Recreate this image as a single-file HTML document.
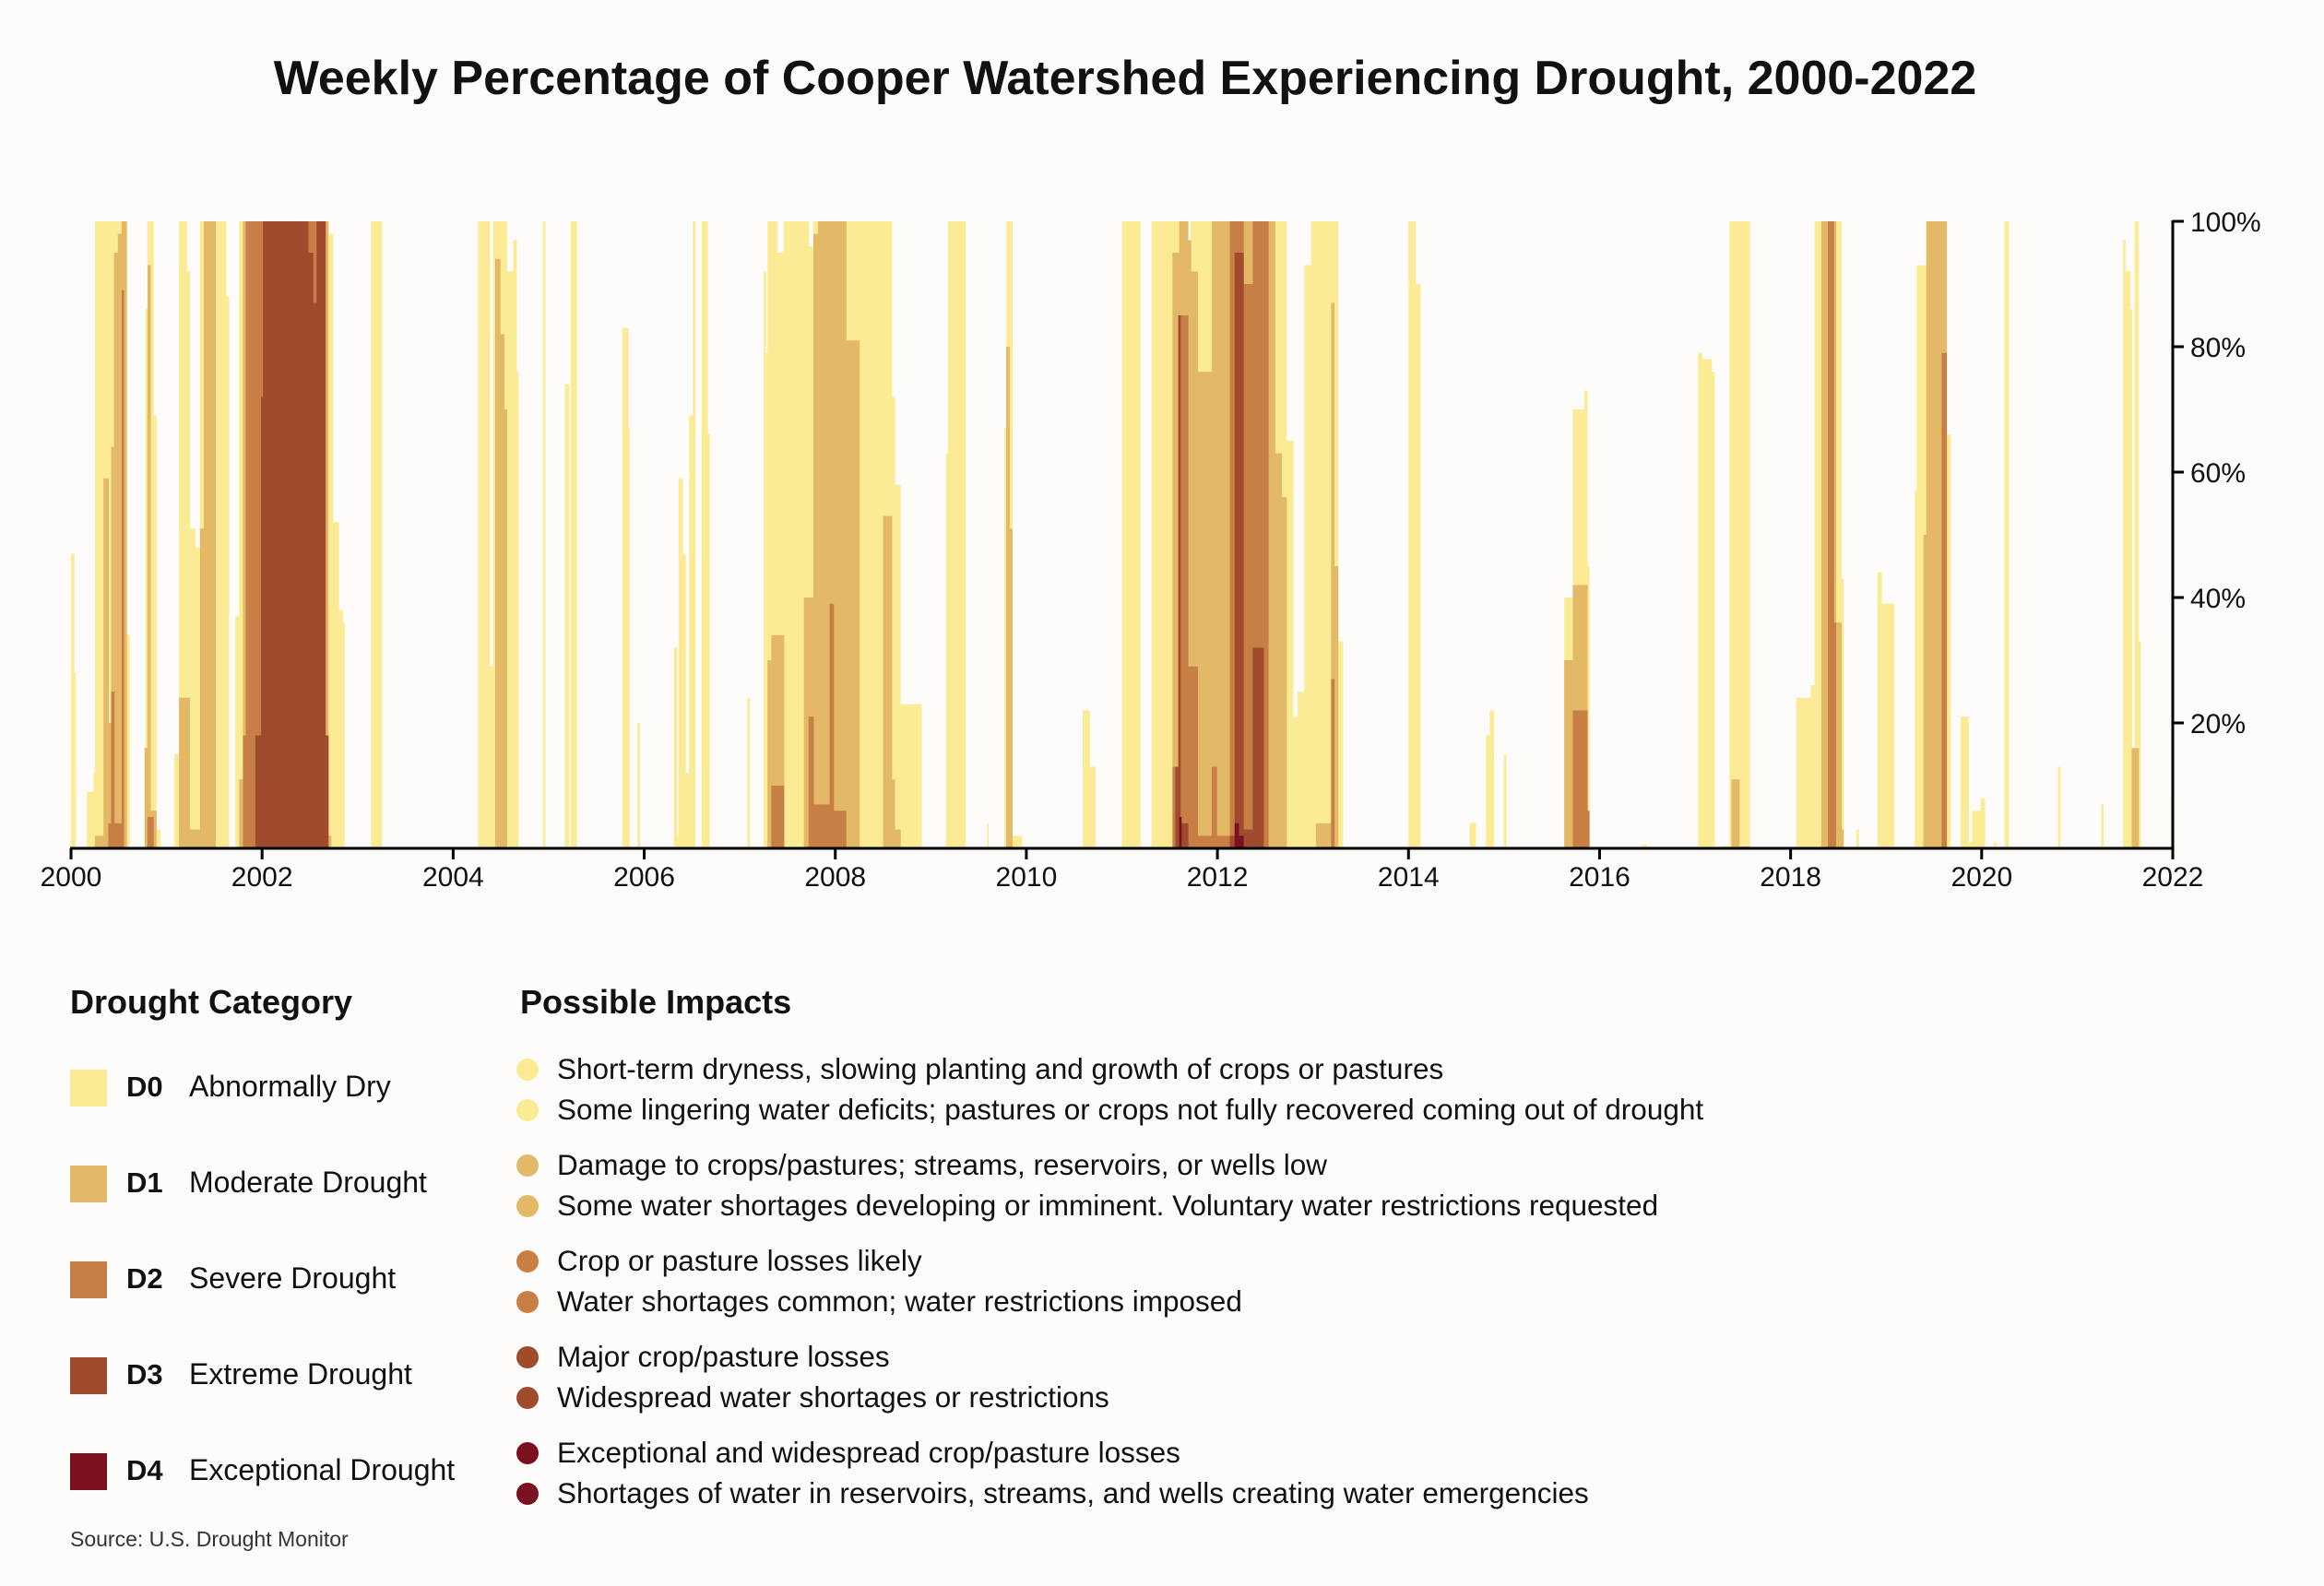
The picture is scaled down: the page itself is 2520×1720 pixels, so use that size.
<!DOCTYPE html>
<html><head><meta charset="utf-8">
<style>
html,body{margin:0;padding:0;background:#fefbfb;}
body{width:2520px;height:1720px;position:relative;overflow:hidden;font-family:"Liberation Sans",sans-serif;color:#111;}
#title{position:absolute;left:0;width:2440px;text-align:center;top:55px;font-size:52px;font-weight:bold;}
.h{position:absolute;font-size:36px;font-weight:bold;}
.sw{position:absolute;left:76px;width:40px;height:40px;}
.code{position:absolute;left:137px;font-size:31px;font-weight:bold;}
.nm{position:absolute;left:205px;font-size:32px;}
.dot{position:absolute;left:560px;width:24px;height:24px;border-radius:50%;}
.imp{position:absolute;left:604px;font-size:31.5px;}
#src{position:absolute;left:76px;top:1656px;font-size:23px;color:#333;}
</style></head><body>
<div id="title">Weekly Percentage of Cooper Watershed Experiencing Drought, 2000-2022</div>
<svg id="chart" width="2520" height="1000" style="position:absolute;left:0;top:0">
<g id="bars"></g>
<g id="axes"></g>
</svg>

<div class="h" style="left:76px;top:1066px">Drought Category</div>
<div class="h" style="left:564px;top:1066px">Possible Impacts</div>

<div class="sw" style="top:1160px;background:#fbeb94"></div>
<div class="code" style="top:1161px">D0</div>
<div class="nm" style="top:1160px">Abnormally Dry</div>
<div class="sw" style="top:1264px;background:#e3b866"></div>
<div class="code" style="top:1265px">D1</div>
<div class="nm" style="top:1264px">Moderate Drought</div>
<div class="sw" style="top:1368px;background:#c87f45"></div>
<div class="code" style="top:1369px">D2</div>
<div class="nm" style="top:1368px">Severe Drought</div>
<div class="sw" style="top:1472px;background:#a04a2e"></div>
<div class="code" style="top:1473px">D3</div>
<div class="nm" style="top:1472px">Extreme Drought</div>
<div class="sw" style="top:1576px;background:#7a1020"></div>
<div class="code" style="top:1577px">D4</div>
<div class="nm" style="top:1576px">Exceptional Drought</div>

<div class="dot" style="top:1148px;background:#fbeb94"></div>
<div class="imp" style="top:1141px">Short-term dryness, slowing planting and growth of crops or pastures</div>
<div class="dot" style="top:1192px;background:#fbeb94"></div>
<div class="imp" style="top:1185px">Some lingering water deficits; pastures or crops not fully recovered coming out of drought</div>
<div class="dot" style="top:1252px;background:#e3b866"></div>
<div class="imp" style="top:1245px">Damage to crops/pastures; streams, reservoirs, or wells low</div>
<div class="dot" style="top:1296px;background:#e3b866"></div>
<div class="imp" style="top:1289px">Some water shortages developing or imminent. Voluntary water restrictions requested</div>
<div class="dot" style="top:1356px;background:#c87f45"></div>
<div class="imp" style="top:1349px">Crop or pasture losses likely</div>
<div class="dot" style="top:1400px;background:#c87f45"></div>
<div class="imp" style="top:1393px">Water shortages common; water restrictions imposed</div>
<div class="dot" style="top:1460px;background:#a04a2e"></div>
<div class="imp" style="top:1453px">Major crop/pasture losses</div>
<div class="dot" style="top:1504px;background:#a04a2e"></div>
<div class="imp" style="top:1497px">Widespread water shortages or restrictions</div>
<div class="dot" style="top:1564px;background:#7a1020"></div>
<div class="imp" style="top:1557px">Exceptional and widespread crop/pasture losses</div>
<div class="dot" style="top:1608px;background:#7a1020"></div>
<div class="imp" style="top:1601px">Shortages of water in reservoirs, streams, and wells creating water emergencies</div>

<div id="src">Source: U.S. Drought Monitor</div>

<script>
// Segments: [startYearsSince2000, endYearsSince2000, cumulative percent]
const d0Periods = [[0,0.03,47],[0.03,0.045,28],[0.165,0.235,9],[0.235,0.25,12],[0.25,0.58,100],[0.58,0.61,34],
[0.78,0.80,86],[0.80,0.86,100],[0.86,0.89,69],[0.89,0.93,3],
[1.08,1.13,15],[1.13,1.21,100],[1.21,1.24,92],[1.24,1.30,51],[1.30,1.35,48],[1.35,1.62,100],[1.62,1.65,88],[1.72,1.76,37],[1.76,2.69,100],[2.69,2.74,98],[2.74,2.80,52],[2.80,2.84,38],[2.84,2.86,36],
[3.14,3.25,100],
[4.26,4.38,100],[4.38,4.42,29],[4.42,4.56,100],[4.56,4.63,92],[4.63,4.66,97],[4.66,4.68,76],
[4.94,4.96,100],[5.17,5.21,74],[5.23,5.29,100],[5.77,5.83,83],[5.83,5.84,67],[5.93,5.95,20],
[6.31,6.34,32],[6.34,6.36,2],[6.36,6.40,59],[6.40,6.43,47],[6.43,6.47,12],[6.47,6.51,69],[6.51,6.53,100],[6.60,6.66,100],[6.66,6.68,66],
[7.08,7.10,24],[7.25,7.27,92],[7.27,7.29,79],[7.29,7.39,100],[7.39,7.46,95],[7.46,7.72,100],[7.72,7.77,96],[7.77,8.59,100],[8.59,8.62,72],[8.62,8.68,58],[8.68,8.90,23],
[9.16,9.18,63],[9.18,9.36,100],[9.59,9.60,4],[9.77,9.79,67],[9.79,9.85,100],[9.85,9.95,2],
[10.59,10.66,22],[10.66,10.72,13],[11.00,11.19,100],[11.31,11.69,100],[11.69,11.72,92],[11.72,12.72,100],[12.72,12.79,65],[12.79,12.84,21],[12.84,12.91,25],[12.91,12.98,93],[12.98,13.26,100],[13.26,13.31,33],
[14.00,14.07,100],[14.07,14.12,90],
[14.64,14.70,4],[14.81,14.85,18],[14.85,14.89,22],[15.00,15.02,15],[15.63,15.72,40],[15.72,15.84,70],[15.84,15.87,73],[15.87,15.89,45],[16.44,16.49,0.6],
[17.03,17.07,79],[17.07,17.17,78],[17.17,17.20,76],[17.27,17.36,0.4],[17.36,17.57,100],
[18.06,18.21,24],[18.21,18.25,26],[18.25,18.53,100],[18.53,18.55,43],[18.69,18.71,3],[18.91,18.95,44],[18.95,19.08,39],
[19.30,19.32,57],[19.32,19.42,93],[19.42,19.63,100],[19.63,19.67,66],[19.78,19.86,21],[19.86,19.90,1],[19.90,19.99,6],[19.99,20.03,8],[20.13,20.15,1],[20.24,20.28,100],[20.80,20.82,13],[21.25,21.27,7],[21.48,21.50,97],[21.50,21.55,92],[21.55,21.57,86],[21.57,21.60,16],[21.60,21.64,100],[21.64,21.66,33],[21.98,22.0,8]];
const d1Periods = [[0.25,0.34,2],[0.34,0.39,59],[0.39,0.42,20],[0.42,0.45,64],[0.45,0.49,95],[0.49,0.53,98],[0.53,0.58,100],
[0.77,0.80,16],[0.80,0.83,93],[0.83,0.89,6],
[1.13,1.24,24],[1.24,1.35,3],[1.35,1.39,51],[1.39,1.51,100],[1.76,1.80,11],[1.80,2.69,100],[2.69,2.72,2],
[4.44,4.49,94],[4.49,4.53,82],[4.53,4.56,70],
[7.29,7.33,30],[7.33,7.46,34],[7.67,7.77,40],[7.77,7.82,98],[7.82,8.11,100],[8.11,8.25,81],[8.50,8.59,53],[8.59,8.62,11],[8.62,8.68,3],
[9.79,9.82,80],[9.82,9.85,51],
[11.53,11.60,95],[11.60,11.69,100],[11.69,11.72,97],[11.72,11.79,92],[11.79,11.94,76],[11.94,12.60,100],[12.60,12.67,63],[12.67,12.72,56],[13.03,13.19,4],[13.19,13.22,87],[13.22,13.26,45],
[15.63,15.72,30],[15.72,15.87,42],
[17.38,17.46,11],[17.46,17.57,0.3],
[18.32,18.47,100],[18.47,18.53,36],[18.53,18.55,3],
[19.39,19.42,50],[19.42,19.63,100],
[21.57,21.64,16]];
const d2Periods = [[0.39,0.42,4],[0.42,0.45,25],[0.45,0.53,4],[0.53,0.55,89],
[0.80,0.86,5],
[1.80,1.83,18],[1.83,2.66,100],[2.66,2.69,18],
[7.33,7.46,10],[7.72,7.77,21],[7.77,7.94,7],[7.94,7.98,39],[7.98,8.11,6],
[11.53,11.60,13],[11.60,11.69,85],[11.69,11.79,29],[11.79,11.94,2],[11.94,11.99,13],[11.99,12.13,2],[12.13,12.27,100],[12.27,12.37,90],[12.37,12.53,100],[13.19,13.22,27],
[15.72,15.87,22],[15.87,15.89,6],
[18.39,18.45,100],[18.45,18.47,36],
[19.58,19.63,79]];
const d3Periods = [[1.93,1.99,18],[1.99,2.01,72],[2.01,2.48,100],[2.48,2.53,95],[2.53,2.57,87],[2.57,2.66,100],[2.66,2.69,18],
[11.56,11.59,13],[11.59,11.61,85],[11.61,11.69,4],[12.13,12.18,2],[12.18,12.27,95],[12.27,12.37,3],[12.37,12.48,32]];
const d4Periods = [[11.60,11.62,5],[12.18,12.22,4],[12.22,12.27,2]];
const xTickLabels = ["2000","2002","2004","2006","2008","2010","2012","2014","2016","2018","2020","2022"];
const yTickLabels = ["20%","40%","60%","80%","100%"];
const yTickValues = [20,40,60,80,100];

const X0=77, X1=2356, YT=240, YB=920, baseYear=2000, span=22;
const colors=["#fbeb94","#e3b866","#c87f45","#a04a2e","#7a1020"];
const NS="http://www.w3.org/2000/svg";
function xs(t){return X0+(t/span)*(X1-X0);}
function ys(v){return YB-(v/100)*(YB-YT);}
const bars=document.getElementById('bars');
[d0Periods,d1Periods,d2Periods,d3Periods,d4Periods].forEach(function(series,ci){
  series.forEach(function(p){
    const r=document.createElementNS(NS,'rect');
    const xa=xs(p[0]), xb=xs(p[1]);
    r.setAttribute('x',xa);
    r.setAttribute('width',Math.max(1.5,xb-xa+0.6));
    r.setAttribute('y',ys(p[2]));
    r.setAttribute('height',YB-ys(p[2]));
    r.setAttribute('fill',colors[ci]);
    
    
    bars.appendChild(r);
  });
});
const ax=document.getElementById('axes');
function line(x1,y1,x2,y2,name){
  const l=document.createElementNS(NS,'line');
  l.setAttribute('x1',x1);l.setAttribute('y1',y1);l.setAttribute('x2',x2);l.setAttribute('y2',y2);
  l.setAttribute('stroke','#000');l.setAttribute('stroke-width','3');
  
  
  ax.appendChild(l);
}
function text(x,y,s,anchor,name){
  const t=document.createElementNS(NS,'text');
  t.setAttribute('x',x);t.setAttribute('y',y);t.setAttribute('text-anchor',anchor);
  t.setAttribute('font-size','30');t.setAttribute('font-family','Liberation Sans, sans-serif');t.setAttribute('fill','#111');
  t.textContent=s;
  
  
  ax.appendChild(t);
}
line(X0-1,YB,X1+1,YB,'x-axis-line');
line(X1,YT-1,X1,YB+1,'y-axis-line');
xTickLabels.forEach(function(lab,i){
  const x=xs(Number(lab)-baseYear);
  line(x,YB,x,YB+12,'x-tick');
  text(x,YB+41,lab,'middle','x-tick-label');
});
yTickValues.forEach(function(v,i){
  const y=ys(v);
  line(X1,y,X1+12,y,'y-tick');
  text(X1+19,y+11,yTickLabels[i],'start','y-tick-label');
});
</script>
</body></html>
